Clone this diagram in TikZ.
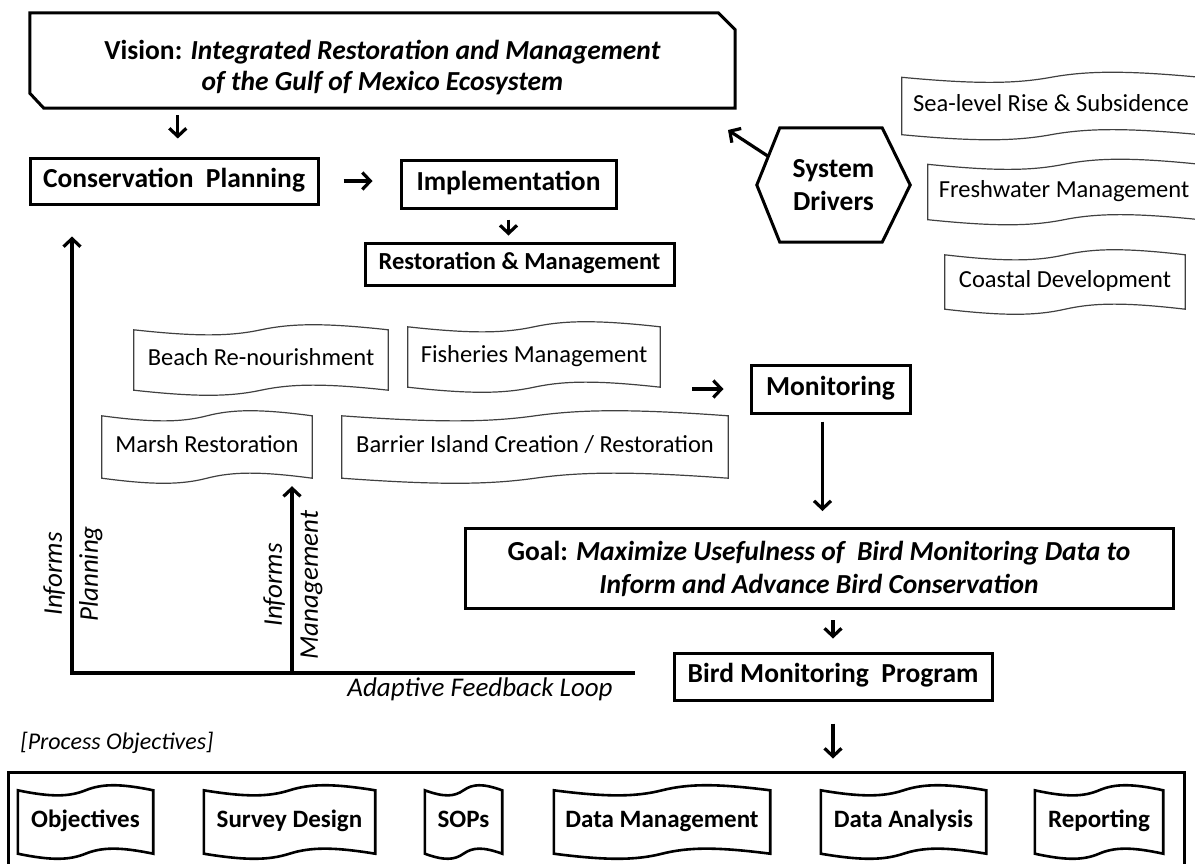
\documentclass[tikz,border=0pt]{standalone}
\usepackage{fontspec}
\setmainfont{Carlito}
\usetikzlibrary{arrows.meta,calc}
% wavy "tape" outline around a named node: #1 node, #2 amplitude, #3 style
\newcommand{\wavebox}[3]{%
  \draw[#3] let \p1=(#1.north west), \p2=(#1.south east),
      \n1={0.25*(\x2-\x1)}, \n2={0.12*(\x2-\x1)}, \n3={0.5*(\x2-\x1)} in
    (\p1) .. controls +(\n1,1.4*#2) and +(-\n2,1.3*#2) .. ++(\n3,0)
          .. controls +(\n2,-1.3*#2) and +(-\n1,-1.4*#2) .. ++(\n3,0)
    -- (\p2) .. controls +(-\n1,-1.4*#2) and +(\n2,-1.3*#2) .. ++(-\n3,0)
          .. controls +(-\n2,1.3*#2) and +(\n1,1.4*#2) .. ++(-\n3,0) -- cycle;}
\begin{document}
\begin{tikzpicture}[x=1pt,y=-1pt,
  boxline/.style={line width=3pt, line join=miter},
  mainbox/.style={draw, boxline, inner sep=0pt, font=\fontsize{27.5}{31}\selectfont\bfseries},
  oneline/.style={text height=18pt, text depth=6pt},
  plain/.style={inner sep=0pt},
  thinwave/.style={inner sep=0pt, text height=16pt, text depth=5pt, font=\fontsize{24.5}{28}\selectfont},
  thickwave/.style={inner sep=0pt, text height=16.5pt, text depth=5pt, font=\fontsize{25}{28}\selectfont\bfseries},
  thinline/.style={line width=1.2pt, draw=black!75},
  thickline/.style={line width=2.6pt, draw=black},
  arr/.style={line width=3.2pt, -{Straight Barb[length=8pt,width=17pt]}},
  rot/.style={rotate=90, align=center, inner sep=0pt, font=\fontsize{27}{36}\selectfont\itshape}]
\useasboundingbox (0,0) rectangle (1195,863);
\clip (0,0) rectangle (1195,863);

% Vision
\node[plain, minimum width=705pt, minimum height=95pt] (vision) at (382.5,60.5) {};
\draw[boxline] (vision.north west) -- ($(vision.north east)+(-17,0)$) -- ($(vision.north east)+(0,17)$)
  -- (vision.south east) -- ($(vision.south west)+(14,0)$) -- ($(vision.south west)+(0,-15)$) -- cycle;
\node[plain, align=center, font=\fontsize{27.5}{31}\selectfont\bfseries] (vtxt) at ([yshift=-7pt]vision.center)
  {Vision: \textit{Integrated Restoration and Management}\\\textit{of the Gulf of Mexico Ecosystem}};

% Planning chain
\node[mainbox, oneline, minimum width=288pt, minimum height=46pt] (cp) at (174,181) {Conservation~ Planning};
\node[mainbox, oneline, minimum width=215pt, minimum height=48pt] (impl) at (508.5,184) {Implementation};
\node[mainbox, minimum width=309pt, minimum height=42pt, text height=16pt, text depth=5pt, font=\fontsize{24.5}{28}\selectfont\bfseries] (rm) at (519.5,264) {Restoration \& Management};

% System drivers
\node[plain, minimum width=153pt, minimum height=114pt, align=center, font=\fontsize{27.5}{33}\selectfont\bfseries] (hex) at (833.5,185) {System\\Drivers};
\coordinate (hexnw) at ($(hex.north west)+(23,0)$);
\draw[boxline] (hex.west) -- (hexnw) -- ($(hex.north east)+(-28,0)$) -- (hex.east)
  -- ($(hex.south east)+(-28,0)$) -- ($(hex.south west)+(23,0)$) -- cycle;
\coordinate (hexarr) at ($(hex.west)!0.5!(hexnw)$);
\coordinate (visarr) at (728,130);
\draw[arr] (hexarr) -- (visarr);

% Drivers (right)
\node[thinwave, minimum width=298pt, minimum height=57pt] (sea) at (1051,106) {Sea-level Rise \& Subsidence};
\node[thinwave, minimum width=272pt, minimum height=55pt] (fresh) at (1064,192) {Freshwater Management};
\node[thinwave, minimum width=240pt, minimum height=54pt] (coast) at (1065,282) {Coastal Development};
\wavebox{sea}{5}{thinline}
\wavebox{fresh}{5}{thinline}
\wavebox{coast}{5}{thinline}

% Actions (middle)
\node[thinwave, minimum width=254pt, minimum height=60pt] (beach) at (261,360) {Beach Re-nourishment};
\node[thinwave, minimum width=252pt, minimum height=60pt] (fish) at (534,357) {Fisheries Management};
\node[thinwave, minimum width=210pt, minimum height=62pt] (marsh) at (207,447) {Marsh Restoration};
\node[thinwave, minimum width=386pt, minimum height=62pt] (barrier) at (535,447) {Barrier Island Creation / Restoration};
\wavebox{beach}{5}{thinline}
\wavebox{fish}{5}{thinline}
\wavebox{marsh}{5}{thinline}
\wavebox{barrier}{5}{thinline}

% Monitoring chain
\node[mainbox, oneline, minimum width=159pt, minimum height=48pt] (mon) at (830.5,389) {Monitoring};
\node[mainbox, minimum width=708pt, minimum height=80pt, align=center, font=\fontsize{27.5}{33}\selectfont\bfseries] (goal) at (819,568.5)
  {Goal: \textit{Maximize Usefulness of~ Bird Monitoring Data to}\\\textit{Inform and Advance Bird Conservation}};
\node[mainbox, oneline, minimum width=318pt, minimum height=47pt] (bmp) at (833,676.5) {Bird Monitoring~ Program};

% Process objectives
\node[draw, boxline, plain, minimum width=1176pt, minimum height=108pt] (proc) at (596,826) {};
\node[plain, font=\fontsize{24}{28}\selectfont\itshape] (pobj) at (117,743) {[Process Objectives]};
\node[thickwave, minimum width=135pt, minimum height=63pt] (obj) at (85.5,822) {Objectives};
\node[thickwave, minimum width=171pt, minimum height=63pt] (survey) at (289.5,822) {Survey Design};
\node[thickwave, minimum width=77pt, minimum height=63pt] (sops) at (463.5,822) {SOPs};
\node[thickwave, minimum width=216pt, minimum height=63pt] (dm) at (662,822) {Data Management};
\node[thickwave, minimum width=165pt, minimum height=63pt] (da) at (903.5,822) {Data Analysis};
\node[thickwave, minimum width=128pt, minimum height=63pt] (rep) at (1099,822) {Reporting};
\wavebox{obj}{5}{thickline}
\wavebox{survey}{5}{thickline}
\wavebox{sops}{5}{thickline}
\wavebox{dm}{5}{thickline}
\wavebox{da}{5}{thickline}
\wavebox{rep}{5}{thickline}

% Arrows
\coordinate (vdown) at ($(vision.south west)+(148,0)$);
\draw[arr, shorten <=7pt, shorten >=18pt] (vdown) -- (vdown |- cp.north);
\draw[arr, shorten <=24pt, shorten >=27pt] (cp.east) -- (cp.east -| impl.west);
\draw[arr, shorten <=10pt, shorten >=6pt] (impl.south) -- (impl.south |- rm.north);
\draw[arr, shorten <=32pt, shorten >=26pt] (fish.east |- mon.west) -- (mon.west);
\coordinate (mdown) at ($(mon.south)+(-8,0)$);
\draw[arr, shorten <=7pt, shorten >=16pt] (mdown) -- (mdown |- goal.north);
\draw[arr, shorten <=10pt, shorten >=13pt] (bmp.north |- goal.south) -- (bmp.north);
\draw[arr, shorten <=22pt, shorten >=12pt] (bmp.south) -- (bmp.south |- proc.north);

% Adaptive feedback loop
\coordinate (fbend) at (635,673);
\coordinate (fbcorner) at (72,673);
\coordinate (fbmid) at (292,673);
\draw[arr, line join=miter, shorten >=31pt] (fbend) -- (fbcorner) -- (fbcorner |- cp.south);
\draw[arr, shorten >=8pt] (fbmid) -- (fbmid |- marsh.south);
\node[rot] (ip) at (73,574) {Informs\\Planning};
\node[rot] (im) at (293,585) {Informs\\Management};
\node[plain, font=\fontsize{27}{30}\selectfont\itshape] (afl) at (480,689) {Adaptive Feedback Loop};
\end{tikzpicture}
\end{document}
